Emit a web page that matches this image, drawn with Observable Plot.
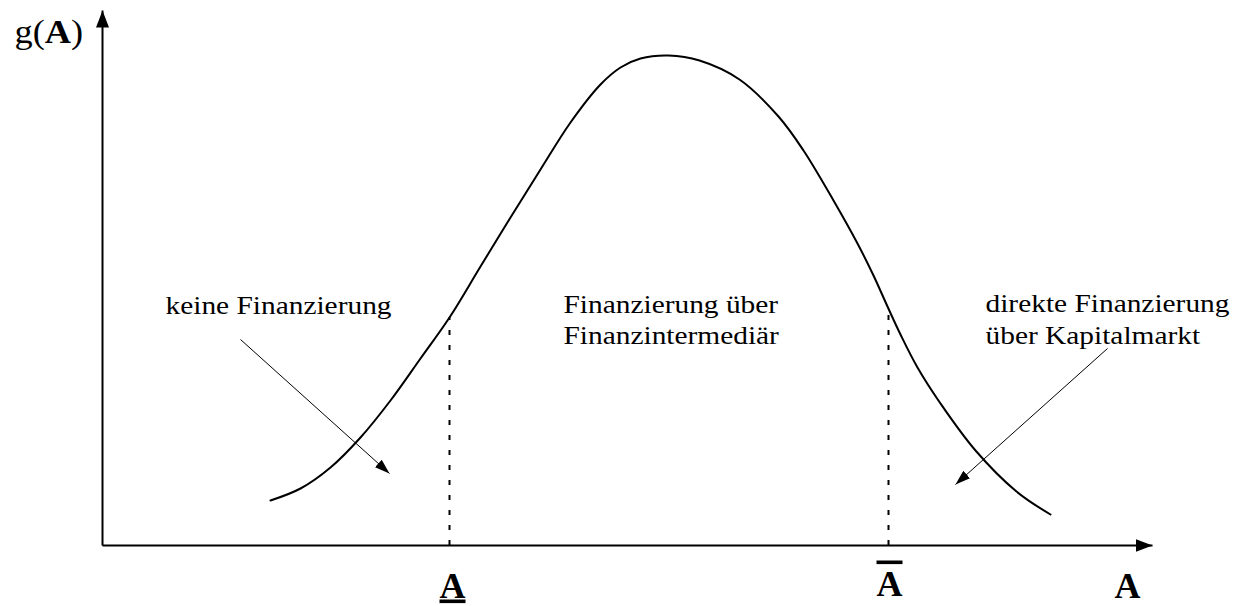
<!DOCTYPE html>
<html>
<head>
<meta charset="utf-8">
<script src="https://cdn.jsdelivr.net/npm/d3@7"></script>
<script src="https://cdn.jsdelivr.net/npm/@observablehq/plot@0.6"></script>
<style>
  html, body { margin: 0; padding: 0; background: #fff; }
  #chart svg { display: block; }
</style>
</head>
<body>
<div id="chart"></div>
<script>
// ---- density curve g(A) (abstract units: A along x, g(A) along y)
const curveA = [1.68, 1.98, 2.28, 2.58, 2.88, 3.18, 3.47, 3.78, 4.08, 4.38, 4.68, 4.98, 5.18, 5.38, 5.66,
                5.97, 6.37, 6.76, 7.01, 7.31, 7.55, 7.71, 7.85, 7.98, 8.15, 8.38, 8.73, 9.14, 9.48];
const curveG = [0.45, 0.57, 0.78, 1.08, 1.45, 1.87, 2.28, 2.79, 3.28, 3.76, 4.23, 4.61, 4.78, 4.87, 4.90,
                4.85, 4.66, 4.29, 3.95, 3.45, 3.02, 2.70, 2.39, 2.11, 1.78, 1.42, 0.95, 0.54, 0.31];

// ---- thresholds A (underlined) and A (overlined)
const thresholdA = [3.47, 7.86];
const thresholdG = [2.28, 2.37];

// ---- axes extents
const axisMaxA = 10.50;
const axisMaxG = 5.35;

// ---- region annotations
const noteText = ["keine Finanzierung", "Finanzierung über", "Finanzintermediär", "direkte Finanzierung", "über Kapitalmarkt"];
const noteA    = [0.63, 4.61, 4.61, 8.83, 8.83];
const noteG    = [2.32, 2.33, 2.02, 2.34, 2.02];

// ---- annotation arrows (from -> to)
const arrowA1 = [1.38, 10.05];
const arrowG1 = [2.06, 1.97];
const arrowA2 = [2.87, 8.53];
const arrowG2 = [0.72, 0.61];

// ---- axis labels
const axisLabelText = ["g(A)", "A", "A", "A"];
const axisLabelA    = [-0.88, 3.50, 7.87, 10.25];
const axisLabelG    = [5.03, -0.52, -0.50, -0.52];
const axisLabelDeco = ["none", "underline", "overline", "none"];

// ---- build tables
const curve = curveA.map((a, i) => ({a, g: curveG[i]}));
const thresholds = thresholdA.map((a, i) => ({a, g: thresholdG[i]}));
const axes = [
  {a1: 0, g1: 0, a2: axisMaxA, g2: 0},
  {a1: 0, g1: 0, a2: 0, g2: axisMaxG}
];
const notes = noteText.map((t, i) => ({t, a: noteA[i], g: noteG[i]}));
const arrows = arrowA1.map((a, i) => ({a1: a, g1: arrowG1[i], a2: arrowA2[i], g2: arrowG2[i]}));
const labels = axisLabelText.map((t, i) => ({t, a: axisLabelA[i], g: axisLabelG[i], deco: axisLabelDeco[i]}));

const W = 1241, H = 606;
const serif = "'Liberation Serif', 'Times New Roman', Times, serif";

const svg = Plot.plot({
  width: W,
  height: H,
  margin: 0,
  x: {domain: [-1.02, 11.39], axis: null},
  y: {domain: [-0.61, 5.45], axis: null},
  style: {background: "#fff", color: "black"},
  marks: [
    Plot.ruleX(thresholds, {x: "a", y1: 0, y2: "g", stroke: "black", strokeWidth: 2, strokeDasharray: "5,10"}),
    Plot.line(curve, {x: "a", y: "g", curve: "catmull-rom", stroke: "black", strokeWidth: 2}),
    Plot.link(axes, {x1: "a1", y1: "g1", x2: "a2", y2: "g2", stroke: "black", strokeWidth: 2, markerEnd: "arrow"}),
    Plot.link(arrows, {x1: "a1", y1: "g1", x2: "a2", y2: "g2", stroke: "black", strokeWidth: 1, markerEnd: "arrow"}),
    Plot.text(notes, {x: "a", y: "g", text: "t", textAnchor: "start", lineAnchor: "bottom",
      fontFamily: serif, fontSize: 24.5, fill: "black", ariaDescription: "note"}),
    Plot.text(labels.filter(d => d.t === "g(A)"), {x: "a", y: "g", text: "t", textAnchor: "start", lineAnchor: "bottom",
      fontFamily: serif, fontSize: 33, fill: "black", ariaDescription: "ylabel"}),
    Plot.text(labels.filter(d => d.deco === "underline"), {x: "a", y: "g", text: "t", textAnchor: "middle", lineAnchor: "bottom",
      fontFamily: serif, fontSize: 36, fontWeight: "bold", fill: "black", ariaDescription: "underline"}),
    Plot.text(labels.filter(d => d.deco === "overline"), {x: "a", y: "g", text: "t", textAnchor: "middle", lineAnchor: "bottom",
      fontFamily: serif, fontSize: 36, fontWeight: "bold", fill: "black", ariaDescription: "overline"}),
    Plot.text(labels.filter(d => d.t === "A" && d.deco === "none"), {x: "a", y: "g", text: "t", textAnchor: "middle", lineAnchor: "bottom",
      fontFamily: serif, fontSize: 36, fontWeight: "bold", fill: "black"})
  ]
});

// filled arrowheads
const root = d3.select(svg);
const defs = root.append("defs");
function addHead(id, len, wid) {
  defs.append("marker")
    .attr("id", id)
    .attr("viewBox", `${-len} ${-wid / 2} ${len} ${wid}`)
    .attr("markerWidth", len)
    .attr("markerHeight", wid)
    .attr("markerUnits", "userSpaceOnUse")
    .attr("refX", 0).attr("refY", 0)
    .attr("orient", "auto")
    .append("path")
    .attr("d", `M0,0L${-len},${-wid / 2}L${-len},${wid / 2}Z`)
    .attr("fill", "black");
}
addHead("headAxis", 17, 13);
addHead("headNote", 15, 10);
root.selectAll("[marker-end]").each(function () {
  const g = this.closest("g[stroke-width]");
  const sw = +((g && g.getAttribute("stroke-width")) || this.getAttribute("stroke-width") || 1);
  this.setAttribute("marker-end", sw >= 2 ? "url(#headAxis)" : "url(#headNote)");
});

// the original figure's serif text is slightly wide: stretch horizontally about its anchor
function widen(sel, k) {
  sel.each(function () {
    let tr = this.getAttribute("transform") || "";
    const x = this.getAttribute("x"), y = this.getAttribute("y");
    if (x !== null || y !== null) {
      tr += ` translate(${+x || 0},${+y || 0})`;
      this.removeAttribute("x");
      this.removeAttribute("y");
    }
    this.setAttribute("transform", `${tr} scale(${k},1)`.trim());
  });
}
widen(root.selectAll("g[aria-description='note'] text"), 1.2);

// bold A inside g(A)
const ylab = root.selectAll("g[aria-description='ylabel'] text");
ylab.each(function () {
  this.textContent = "";
  const t = d3.select(this);
  t.append("tspan").text("g(");
  t.append("tspan").attr("font-weight", "bold").text("A");
  t.append("tspan").text(")");
});
widen(ylab, 1.1);
root.selectAll("g[aria-description='underline'] text").style("text-decoration", "underline");
root.selectAll("g[aria-description='overline'] text").style("text-decoration", "overline");

document.getElementById("chart").appendChild(svg);
</script>
</body>
</html>
